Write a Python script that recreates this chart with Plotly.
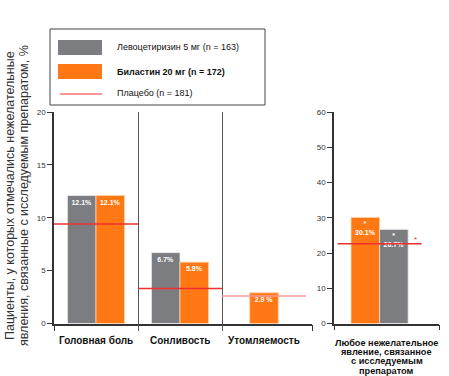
import plotly.graph_objects as go

# ---------------- data ----------------
categories = ["Головная боль", "Сонливость", "Утомляемость"]
levo_vals = [12.1, 6.7, None]
bila_vals = [12.1, 5.8, 2.9]
placebo_vals = [9.4, 3.3, 2.6]
levo_text = ["12.1%", "6.7%", ""]
bila_text = ["12.1%", "5.8%", "2.9 %"]

any_cat = ["Любое нежелательное", "явление, связанное", "с исследуемым", "препаратом"]
any_levo = [26.7]
any_bila = [30.1]
any_placebo = [22.6]
any_levo_text = ["*<br>26.7%"]
any_bila_text = ["*<br>30.1%"]

left_ticks = [0, 5, 10, 15, 20]
right_ticks = [0, 10, 20, 30, 40, 50, 60]

legend_names = ["Левоцетиризин 5 мг (n = 163)", "Биластин 20 мг (n = 172)", "Плацебо (n = 181)"]
ytitle = ["Пациенты, у которых отмечались нежелательные",
          "явления, связанные с исследуемым препаратом, %"]

# ---------------- style ----------------
W, H = 449, 376
GRAY = "#7c7d80"
ORANGE = "#ff7814"
RED = "#ee2f2f"
PINK = "#f79a9a"
DARK = "#333333"
FONT = "Liberation Sans, Arial, sans-serif"
BW = 0.34

def px(x):
    return x / W

def py(y):
    return 1 - y / H

fig = go.Figure()

# left panel bars
idx = list(range(len(categories)))
lx = [i for i, v in zip(idx, levo_vals) if v is not None]
ly = [v for v in levo_vals if v is not None]
lt = [t for t, v in zip(levo_text, levo_vals) if v is not None]
fig.add_trace(go.Bar(x=lx, y=ly, text=lt, width=[BW] * len(lx), offset=[-BW] * len(lx),
                     marker=dict(color=GRAY, line=dict(color="#e8e8e8", width=0.8)),
                     name=legend_names[0], xaxis="x", yaxis="y"))
b_off = [0 if l is not None else -BW / 2 for l in levo_vals]
fig.add_trace(go.Bar(x=idx, y=bila_vals, text=bila_text, width=[BW] * len(idx), offset=b_off,
                     marker=dict(color=ORANGE, line=dict(color="#ffd0a8", width=0.8)),
                     name=legend_names[1], xaxis="x", yaxis="y"))

# placebo segments (left)
for i, p in enumerate(placebo_vals):
    col = PINK if levo_vals[i] is None else RED
    fig.add_trace(go.Scatter(x=[i - 0.5, i + 0.5], y=[p, p], mode="lines",
                             line=dict(color=col, width=1.5), name=legend_names[2],
                             xaxis="x", yaxis="y", hoverinfo="skip"))

# right panel bars
fig.add_trace(go.Bar(x=[0], y=any_bila, text=any_bila_text, width=[BW], offset=[-BW],
                     marker=dict(color=ORANGE, line=dict(color="#ffd0a8", width=0.8)),
                     xaxis="x2", yaxis="y2"))
fig.add_trace(go.Bar(x=[0], y=any_levo, text=any_levo_text, width=[BW], offset=[0],
                     marker=dict(color=GRAY, line=dict(color="#e8e8e8", width=0.8)),
                     xaxis="x2", yaxis="y2"))
fig.add_trace(go.Scatter(x=[-0.5, 0.5], y=[any_placebo[0]] * 2, mode="lines",
                         line=dict(color=RED, width=1.5), xaxis="x2", yaxis="y2", hoverinfo="skip"))

fig.update_traces(selector=dict(type="bar"), textposition="inside", insidetextanchor="end",
                  textangle=0, constraintext="none",
                  textfont=dict(family=FONT, size=7, color="white", weight="bold"),
                  cliponaxis=False)

ydom = [py(323.5), py(112)]
L_end = 2.5 + 6 / 84
R0 = (334 - 379.6) / 84
R1 = (439 - 379.6) / 84

axis_common = dict(showline=True, linecolor=DARK, linewidth=1.5, zeroline=False,
                   fixedrange=True, automargin=False)

annotations = []
# category labels (left)
for i, c in enumerate(categories):
    annotations.append(dict(x=i, y=0, xref="x", yref="y", yshift=-17, text="<b>%s</b>" % c,
                            showarrow=False, font=dict(family=FONT, size=10, color="#111"),
                            xanchor="center", yanchor="middle"))
# right category label lines
for k, line in enumerate(any_cat):
    annotations.append(dict(x=0.085, y=0, xref="x2", yref="y2", yshift=-19 - 9.4 * k,
                            text="<b>%s</b>" % line, showarrow=False,
                            font=dict(family=FONT, size=9.2, color="#111"),
                            xanchor="center", yanchor="middle"))
# red asterisk
annotations.append(dict(x=0.43, y=any_placebo[0], xref="x2", yref="y2", yshift=4, text="*",
                        showarrow=False, font=dict(family=FONT, size=8, color=RED)))
# y title
for k, line in enumerate(ytitle):
    annotations.append(dict(x=px(10 + 14 * k), y=py(196), xref="paper", yref="paper",
                            text=line, textangle=-90, showarrow=False,
                            font=dict(family=FONT, size=12.5, color=DARK),
                            xanchor="center", yanchor="middle"))
# legend texts
leg_y = [47, 72, 93]
for k, name in enumerate(legend_names):
    t = "<b>%s</b>" % name if k == 1 else name
    annotations.append(dict(x=px(115), y=py(leg_y[k]), xref="paper", yref="paper", text=t,
                            showarrow=False, font=dict(family=FONT, size=9, color="#111"),
                            xanchor="left", yanchor="middle"))

shapes = [
    dict(type="rect", xref="paper", yref="paper", x0=px(50), x1=px(265), y0=py(29), y1=py(105),
         line=dict(color="#444", width=1), fillcolor="white"),
    dict(type="rect", xref="paper", yref="paper", x0=px(58), x1=px(102), y0=py(40), y1=py(55),
         line=dict(width=0), fillcolor=GRAY),
    dict(type="rect", xref="paper", yref="paper", x0=px(58), x1=px(102), y0=py(64), y1=py(79),
         line=dict(width=0), fillcolor=ORANGE),
    dict(type="line", xref="paper", yref="paper", x0=px(60), x1=px(102), y0=py(94), y1=py(94),
         line=dict(color=RED, width=1)),
]

fig.update_layout(
    width=W, height=H, autosize=False,
    margin=dict(l=0, r=0, t=0, b=0, pad=0),
    paper_bgcolor="white", plot_bgcolor="white",
    showlegend=False, barmode="overlay",
    font=dict(family=FONT, color=DARK),
    xaxis=dict(domain=[px(54), px(312)], range=[-0.5, L_end], tickmode="array",
               tickvals=[0.5, 1.5], showticklabels=False, ticks="outside", ticklen=6,
               tickcolor="#555", showgrid=True, gridcolor="#555", gridwidth=1,
               minor=dict(tickvals=[-0.5, L_end], ticks="outside", ticklen=6, tickcolor=DARK,
                          showgrid=False),
               anchor="y", **axis_common),
    yaxis=dict(domain=ydom, range=[0, 20], tickvals=left_ticks, ticks="outside", ticklen=5,
               tickcolor=DARK, showgrid=False, tickfont=dict(family=FONT, size=8, color=DARK),
               anchor="x", **axis_common),
    xaxis2=dict(domain=[px(334), px(439)], range=[R0, R1], tickmode="array",
                tickvals=[R0, R1], showticklabels=False, ticks="outside", ticklen=5,
                tickcolor=DARK, showgrid=False, anchor="y2", **axis_common),
    yaxis2=dict(domain=ydom, range=[0, 60], tickvals=right_ticks, ticks="outside", ticklen=5,
                tickcolor=DARK, showgrid=False, tickfont=dict(family=FONT, size=8, color=DARK),
                anchor="x2", **axis_common),
    annotations=annotations, shapes=shapes,
)

fig.write_html("out.html", config={"displayModeBar": False},
               post_script="document.body.style.margin='0';document.body.style.overflow='hidden';")
